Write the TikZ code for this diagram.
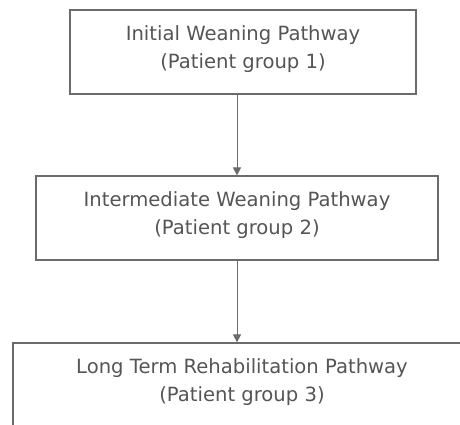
\documentclass[tikz,border=0pt]{standalone}
\usepackage{fontspec}
\setmainfont{DejaVu Sans}
\usetikzlibrary{arrows.meta}

\definecolor{linegray}{HTML}{6E6A6A}
\definecolor{textgray}{HTML}{555555}

\tikzset{
    pathbox/.style={draw=linegray, line width=1.2pt, align=center,
        text=textgray, font=\fontsize{19.6}{27.5}\selectfont,
        inner xsep=0pt, minimum height=84pt, text depth=9.5pt},
    flowarrow/.style={draw=linegray, line width=1pt,
        -{Triangle[width=8pt,length=8pt]}}
}

\begin{document}
\begin{tikzpicture}[x=1pt,y=-1pt]
    \useasboundingbox (0,0) rectangle (460,424);
    \clip (0,0) rectangle (460,424);
    \fill[white] (0,0) rectangle (460,424);
    % the three pathways
    \node[pathbox, minimum width=346pt] (initial) at (243,52)
        {Initial Weaning Pathway\\(Patient group 1)};
    \node[pathbox, minimum width=402pt] (intermediate) at (237,218)
        {Intermediate Weaning Pathway\\(Patient group 2)};
    \node[pathbox, minimum width=458pt] (longterm) at (242,385)
        {Long Term Rehabilitation Pathway\\(Patient group 3)};
    % arrows
    \draw[flowarrow] (intermediate.north |- initial.south) -- (intermediate.north);
    \draw[flowarrow] (intermediate.south) -- (intermediate.south |- longterm.north);
\end{tikzpicture}
\end{document}
